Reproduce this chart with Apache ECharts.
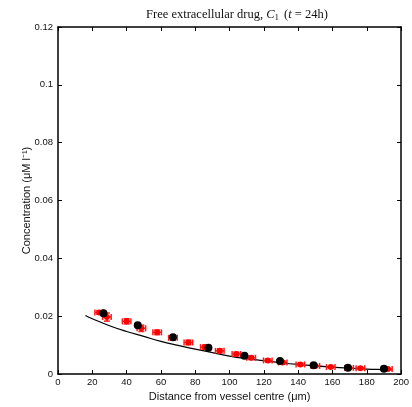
<!DOCTYPE html>
<html><head><meta charset="utf-8">
<script src="https://cdn.jsdelivr.net/npm/echarts@6/dist/echarts.min.js"></script>
<style>html,body{margin:0;padding:0;background:#fff}#c{width:412px;height:407px}</style>
</head><body><div id="c"></div>
<script>
// Model curve
const curveX = [16, 20, 30, 40, 50, 60, 70, 80, 90, 100, 110, 120, 130, 140, 150, 160, 170, 180, 190, 195];
const curveY = [0.0202, 0.0191, 0.0167, 0.0147, 0.0130, 0.0113, 0.0099, 0.0086, 0.0074, 0.0062, 0.0053, 0.0046, 0.0039, 0.0033, 0.0028, 0.0024, 0.0020, 0.0017, 0.0015, 0.0014];
// Black points
const blackX = [26.5, 46.5, 67, 87.7, 108.7, 129.4, 149, 169, 190];
const blackY = [0.0210, 0.0169, 0.0127, 0.0091, 0.0063, 0.0045, 0.0030, 0.0022, 0.0018];
// Red points with error bars
const redX = [24, 28.5, 40, 48.6, 57.8, 67, 76, 85.6, 94.3, 104, 112.6, 122.3, 131, 141.3, 150, 159, 169.7, 176.3, 192.3];
const redY = [0.0213, 0.0197, 0.0182, 0.0158, 0.0144, 0.0125, 0.0109, 0.0093, 0.0080, 0.0069, 0.0056, 0.0047, 0.0040, 0.0033, 0.0028, 0.0024, 0.0021, 0.0020, 0.0017];
const redYErr = [0.0006, 0.0014, 0.0009, 0.0011, 0.0008, 0.0008, 0.0008, 0.0007, 0.0007, 0.0006, 0.0006, 0.0005, 0.0005, 0.0004, 0.0004, 0.0003, 0.0003, 0.0003, 0.0003];
const redXErr = [2.5, 2.5, 2.5, 2.5, 2.5, 2.5, 2.5, 2.5, 2.5, 2.5, 2.5, 2.5, 2.5, 2.5, 2.5, 2.5, 2.5, 2.5, 2.5];
const xTicks = [0, 20, 40, 60, 80, 100, 120, 140, 160, 180, 200];
const yTicks = [0, 0.02, 0.04, 0.06, 0.08, 0.1, 0.12];

const chart = echarts.init(document.getElementById('c'), null, {renderer: 'canvas'});
const sans = 'Liberation Sans';
const axisCommon = {
  axisLine: {show: true, onZero: false, lineStyle: {color: '#000', width: 1.5}},
  axisTick: {show: true, inside: true, length: 4, lineStyle: {color: '#000', width: 1}},
  splitLine: {show: false}
};
const errData = redX.map((x, i) => [x, redY[i], redXErr[i], redYErr[i]]);
chart.setOption({
  animation: false,
  backgroundColor: '#fff',
  title: {
    text: '{n|Free extracellular drug, }{i|C}{s|1}{n| (}{i|t}{n| = 24h)}',
    left: 232, textAlign: 'center', top: 2,
    textStyle: {
      fontWeight: 'normal',
      rich: {
        n: {fontFamily: 'Liberation Serif', fontSize: 12.5, fontWeight: 'normal', color: '#111'},
        i: {fontFamily: 'Liberation Serif', fontSize: 12.5, fontWeight: 'normal', fontStyle: 'italic', color: '#111'},
        s: {fontFamily: 'Liberation Serif', fontSize: 9, fontWeight: 'normal', color: '#111', padding: [6, 2, 0, 0]}
      }
    }
  },
  grid: {left: 58, right: 7, top: 27, bottom: 31, containLabel: false},
  xAxis: [
    Object.assign({
      type: 'value', min: 0, max: 200, interval: 20, position: 'bottom',
      name: 'Distance from vessel centre (\u03bcm)', nameLocation: 'middle', nameGap: 17,
      nameMoveOverlap: false,
      nameTextStyle: {fontFamily: sans, fontSize: 11, color: '#111'},
      axisLabel: {fontFamily: sans, fontSize: 9.5, color: '#111', margin: 3,
        formatter: v => xTicks.includes(v) ? String(v) : ''}
    }, axisCommon),
    Object.assign({
      type: 'value', min: 0, max: 200, interval: 20, position: 'top',
      axisLabel: {show: false}
    }, axisCommon)
  ],
  yAxis: [
    Object.assign({
      type: 'value', min: 0, max: 0.12, interval: 0.02, position: 'left',
      name: 'Concentration (\u03bcM l\u207b\u00b9)', nameLocation: 'middle', nameGap: 26,
      nameMoveOverlap: false,
      nameTextStyle: {fontFamily: sans, fontSize: 11, color: '#111'},
      axisLabel: {fontFamily: sans, fontSize: 9.5, color: '#111', margin: 5,
        formatter: v => { const t = yTicks.find(k => Math.abs(k - v) < 1e-9); return t === undefined ? '' : String(+t.toFixed(2)); }}
    }, axisCommon),
    Object.assign({
      type: 'value', min: 0, max: 0.12, interval: 0.02, position: 'right',
      axisLabel: {show: false}
    }, axisCommon)
  ],
  series: [
    {
      type: 'line', data: curveX.map((x, i) => [x, curveY[i]]), smooth: true, showSymbol: false,
      lineStyle: {color: '#000', width: 1.2}, z: 2
    },
    {
      type: 'custom', z: 3,
      data: errData,
      encode: {x: 0, y: 1},
      renderItem: function (params, api) {
        const x = api.value(0), y = api.value(1), ex = api.value(2), ey = api.value(3);
        const c = api.coord([x, y]);
        const l = api.coord([x - ex, y]), r = api.coord([x + ex, y]);
        const t = api.coord([x, y + ey]), b = api.coord([x, y - ey]);
        const cap = 3;
        const st = {stroke: '#ff1a1a', lineWidth: 1.5};
        return {type: 'group', children: [
          {type: 'line', shape: {x1: l[0], y1: c[1], x2: r[0], y2: c[1]}, style: st},
          {type: 'line', shape: {x1: c[0], y1: t[1], x2: c[0], y2: b[1]}, style: st},
          {type: 'line', shape: {x1: c[0] - cap, y1: t[1], x2: c[0] + cap, y2: t[1]}, style: st},
          {type: 'line', shape: {x1: c[0] - cap, y1: b[1], x2: c[0] + cap, y2: b[1]}, style: st},
          {type: 'line', shape: {x1: l[0], y1: c[1] - cap, x2: l[0], y2: c[1] + cap}, style: st},
          {type: 'line', shape: {x1: r[0], y1: c[1] - cap, x2: r[0], y2: c[1] + cap}, style: st}
        ]};
      }
    },
    {
      type: 'scatter', data: redX.map((x, i) => [x, redY[i]]), symbol: 'circle', symbolSize: 6,
      itemStyle: {color: '#ff0000', opacity: 1}, z: 4
    },
    {
      type: 'scatter', data: blackX.map((x, i) => [x, blackY[i]]), symbol: 'circle', symbolSize: 8,
      itemStyle: {color: '#000', opacity: 1}, z: 5
    }
  ]
});
</script>
</body></html>
